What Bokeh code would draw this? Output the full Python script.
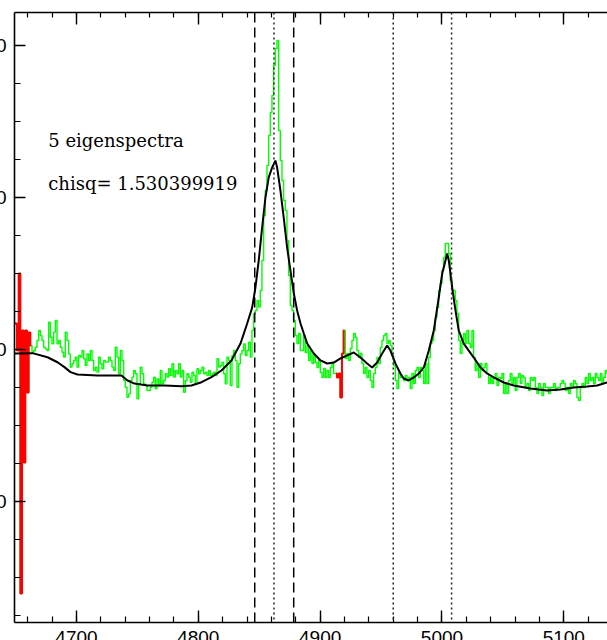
import numpy as np
from bokeh.plotting import figure
from bokeh.models import LinearAxis, SingleIntervalTicker, Span, Range1d, CustomJSTickFormatter
from bokeh.core.properties import value
from bokeh.embed import file_html
from bokeh.resources import INLINE

# ---------------- data ----------------
# observed spectrum, sampled on a uniform wavelength grid
wave_start = 4649.1
wave_step = 1.368
flux = [
    # blue edge (masked)
    11.71, 11.71, 9.93, 15.00, -6.05, 11.25, 2.57, 11.25, 7.17, 11.12, 10.26,
    # continuum blueward of H-beta
    9.82, 9.93, 10.15, 10.59, 11.25, 10.92, 10.59, 10.15, 10.04, 9.93,
    11.80, 10.81, 10.37, 11.14, 11.91, 10.37, 10.59, 10.15, 9.82, 9.50,
    11.14, 10.59, 9.71, 8.84, 9.06, 9.28, 9.50, 8.84, 9.61, 9.50,
    9.93, 9.39, 8.95, 9.71, 9.28, 9.93, 9.28, 8.62, 8.84, 8.51,
    9.50, 9.06, 8.73, 9.28, 9.17, 9.17, 9.50, 9.28, 8.84, 8.62,
    10.15, 9.50, 8.40, 9.93, 9.28, 7.96, 7.52, 6.86, 7.08, 7.96,
    8.18, 8.62, 8.40, 6.75, 7.74, 8.84, 8.40, 7.74, 7.63, 7.30,
    7.30, 7.52, 7.85, 8.18, 7.41, 8.07, 7.63, 8.62, 7.74, 7.96,
    8.40, 8.18, 8.73, 8.29, 9.06, 8.18, 8.62, 8.40, 9.06, 8.18,
    8.62, 7.19, 7.96, 8.40, 8.18, 7.85, 8.51, 8.29, 7.74, 8.73,
    8.40, 8.62, 8.84, 8.40, 8.51, 8.29, 8.62, 8.29, 8.40, 8.51,
    8.29, 9.39, 8.84, 8.95, 9.17, 8.40, 7.74, 9.50, 9.28, 7.63,
    9.61, 9.93, 9.28, 7.52, 9.06, 9.71, 9.93, 10.37, 9.61, 9.93,
    10.48, 9.50, 11.25, 12.35, 12.57, 13.22, 12.79, 13.88, 15.86, 18.82,
    # H-beta
    20.46, 22.11, 24.08, 25.59, 26.71, 28.68, 29.80, 30.33, 24.41, 22.43,
    21.12, 19.80, 19.14, 17.17, 14.87, 12.89, 12.57, 11.91, 10.92, 10.39,
    11.05, 9.93, 9.93, 10.92, 9.80, 10.26, 9.28, 9.93, 9.08, 9.61,
    9.14, 8.82, 9.28, 8.49, 8.16, 8.75, 8.16, 8.62, 8.16, 8.82,
    9.08, 8.42,
    # masked pixels
    8.42, 8.16, 8.42, 6.84, 9.74, 11.25,
    # [OIII] 4959
    9.41, 9.74, 9.28, 10.07, 10.59, 11.05, 10.79, 9.93, 9.47, 9.74,
    9.08, 8.42, 8.82, 8.16, 8.62, 7.96, 7.50, 8.42, 8.82, 9.47, 9.08,
    10.13, 10.59, 10.92, 11.05, 10.39, 10.59, 10.26, 9.61, 8.95, 7.96,
    7.43, 8.49,
    # [OIII] 5007 and red continuum
    8.16, 8.16, 7.96, 8.29, 7.96, 8.16, 7.43, 8.42, 7.76, 8.62,
    8.82, 8.16, 8.82, 8.62, 7.76, 9.08, 7.76, 9.47, 10.39, 10.59,
    11.25, 12.11, 12.76, 13.88, 14.34, 15.20, 16.05, 16.97, 16.97, 16.32,
    14.54, 13.88, 13.88, 13.22, 12.37, 10.59, 9.74, 10.59, 11.05, 10.39,
    11.25, 10.39, 10.13, 11.25, 9.47, 8.62, 9.08, 8.16, 9.08, 8.62,
    8.82, 9.08, 8.42, 7.76, 8.16, 7.76, 8.16, 8.42, 7.63, 8.16,
    8.09, 8.42, 7.11, 7.76, 7.11, 7.96, 8.42, 7.76, 8.16, 7.30,
    8.16, 8.42, 7.76, 8.29, 8.16, 7.50, 7.76, 7.30, 8.16, 7.96,
    8.16, 7.50, 7.11, 7.76, 7.50, 6.97, 7.76, 7.50, 7.50, 7.11,
    7.50, 7.50, 7.76, 7.30, 7.50, 7.50, 7.76, 7.96, 7.76, 7.30,
    7.50, 7.11, 7.76, 7.50, 7.96, 7.76, 6.84, 6.64, 7.50, 7.76,
    7.50, 8.16, 7.76, 8.42, 7.96, 8.16, 7.76, 8.42, 8.16, 7.96,
    8.42, 7.76, 8.16, 8.62, 8.42,
]
masked_windows = [(4648.0, 4663.5), (4912.5, 4920.5)]

# eigenspectra model
model_wave = [
    4649.0, 4663.9, 4676.2, 4684.4, 4690.1, 4695.1, 4700.8, 4717.2, 4733.6, 4736.9,
    4741.9, 4747.6, 4758.3, 4772.2, 4786.2, 4794.4, 4802.6, 4810.8, 4819.0, 4827.2,
    4834.6, 4840.1, 4844.2, 4846.9, 4849.6, 4852.4, 4855.1, 4857.8, 4860.6, 4863.3,
    4864.7, 4867.4, 4870.1, 4872.9, 4875.6, 4878.4, 4881.1, 4883.9, 4886.6, 4889.4,
    4894.8, 4900.3, 4905.8, 4911.2, 4916.7, 4922.2, 4927.6, 4933.1, 4938.6, 4942.7,
    4946.8, 4950.9, 4955.0, 4957.7, 4961.8, 4965.9, 4968.6, 4972.7, 4976.9, 4981.0,
    4985.1, 4989.2, 4993.3, 4997.4, 5000.2, 5002.9, 5004.3, 5005.6, 5008.4, 5011.1,
    5013.8, 5017.9, 5022.0, 5026.1, 5031.6, 5037.1, 5042.5, 5050.7, 5058.9, 5072.6,
    5086.3, 5097.3, 5108.2, 5119.2, 5127.4, 5135.6, 5150.0,
]
model_flux = [
    9.74, 9.76, 9.49, 9.16, 8.84, 8.51, 8.36, 8.29, 8.29, 8.29,
    7.96, 7.76, 7.63, 7.63, 7.59, 7.63, 7.85, 8.18, 8.62, 9.28,
    10.39, 11.71, 12.76, 14.08, 15.86, 18.03, 20.00, 21.32, 21.97, 22.43,
    21.97, 20.46, 18.68, 16.71, 15.20, 13.68, 12.57, 11.71, 11.05, 10.39,
    9.74, 9.28, 9.08, 9.14, 9.41, 9.61, 9.80, 9.47, 9.08, 8.82,
    9.14, 9.74, 10.26, 9.93, 9.08, 8.42, 8.09, 7.96, 8.16, 8.42,
    8.82, 9.93, 11.25, 13.42, 15.00, 15.86, 16.32, 15.86, 14.08, 12.57,
    11.25, 10.39, 9.93, 9.47, 8.82, 8.42, 8.16, 7.83, 7.63, 7.43,
    7.30, 7.37, 7.50, 7.57, 7.63, 7.83, 7.90,
]

dashed_lines = [4846.3, 4878.3]
dotted_lines = [4862.1, 4960.0, 5007.9]

annot_text = ["5 eigenspectra", "chisq= 1.530399919"]
annot_x = [4676.8, 4676.8]
annot_y = [23.78, 20.95]

x_limits = (4649.1, 5135.9)
y_limits = (-7.96, 32.17)
x_major, x_minor_n = 100, 5
y_major, y_minor_n = 10, 4

# ---------------- figure ----------------
L_OFF = 30   # part of the figure pushed off the left edge of the window
B_OFF = 20   # part pushed off the bottom edge

p = figure(width=607 + L_OFF, height=640 + B_OFF,
           x_range=Range1d(*x_limits), y_range=Range1d(*y_limits),
           output_backend="svg", toolbar_location=None,
           min_border_left=14 + L_OFF, min_border_right=0,
           min_border_top=12, min_border_bottom=18 + B_OFF)
p.margin = (0, 0, -B_OFF, -L_OFF)
p.outline_line_color = None
p.xgrid.grid_line_color = None
p.ygrid.grid_line_color = None
p.background_fill_color = "white"
p.border_fill_color = "white"

xt = SingleIntervalTicker(interval=x_major, num_minor_ticks=x_minor_n)
yt = SingleIntervalTicker(interval=y_major, num_minor_ticks=y_minor_n)

def style_axis(ax, major_len, minor_len):
    ax.axis_line_color = "black"
    ax.axis_line_width = 1.6
    ax.major_tick_line_color = "black"
    ax.minor_tick_line_color = "black"
    ax.major_tick_line_width = 1.4
    ax.minor_tick_line_width = 1.2
    ax.major_tick_in = major_len
    ax.major_tick_out = 0
    ax.minor_tick_in = minor_len
    ax.minor_tick_out = 0
    ax.major_label_text_font = "Liberation Sans"
    ax.major_label_text_font_size = "19px"
    ax.major_label_text_color = "black"
    ax.major_label_standoff = 8

p.xaxis.ticker = xt
p.yaxis.ticker = yt
style_axis(p.xaxis[0], 12, 6)
style_axis(p.yaxis[0], 11, 6)

top = LinearAxis(ticker=SingleIntervalTicker(interval=x_major, num_minor_ticks=x_minor_n),
                 formatter=CustomJSTickFormatter(code="return '';"))
style_axis(top, 12, 5)
top.major_label_standoff = 0
p.add_layout(top, "above")

# ---------------- glyphs ----------------
flux_arr = np.array(flux)
wave = wave_start + wave_step * np.arange(len(flux_arr))

p.step(wave, flux_arr, mode="center", line_color="#00ff00", line_width=1.4)

for lo, hi in masked_windows:
    sel = (wave >= lo) & (wave <= hi)
    p.step(wave[sel], flux_arr[sel], mode="center", line_color="#ff0000", line_width=2.0)

p.line(model_wave, model_flux, line_color="black", line_width=2.0)

for xv in dashed_lines:
    p.add_layout(Span(location=xv, dimension="height", line_color="black",
                      line_width=1.5, line_dash="10 5"))
for xv in dotted_lines:
    p.add_layout(Span(location=xv, dimension="height", line_color="#222222",
                      line_width=1.5, line_dash="2 3"))

p.text(x=annot_x, y=annot_y, text=annot_text, text_font=value("DejaVu Serif"),
       text_font_size="18px", text_color="black", text_baseline="alphabetic",
       text_align="left")

open("out.html", "w").write(file_html(p, INLINE))
